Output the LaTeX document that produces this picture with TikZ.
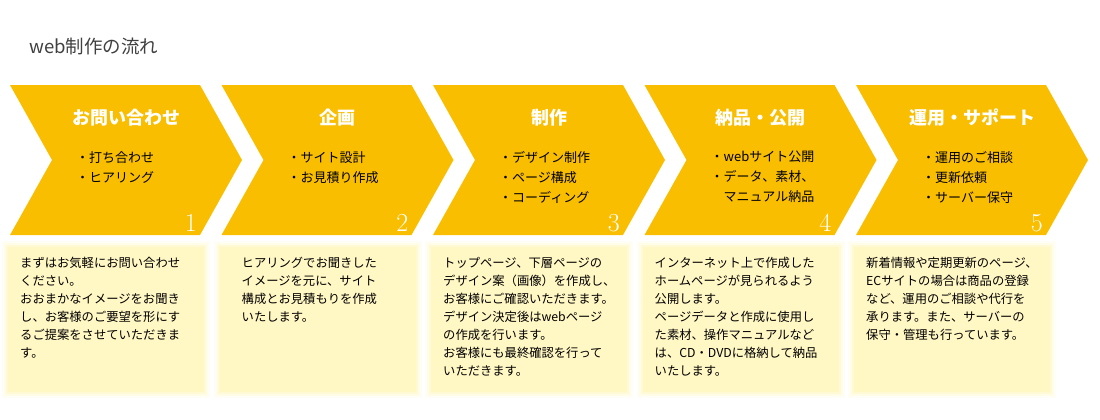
\documentclass[tikz,border=0pt]{standalone}
\usepackage{fontspec}
\newfontfamily\jp{Noto Sans CJK JP}
\definecolor{chevyellow}{HTML}{F9BE00}
\definecolor{notepale}{HTML}{FFF7C4}
\tikzset{
  chevron/.style={fill=chevyellow, draw=none},
  stephead/.style={font=\jp\bfseries\fontsize{18}{20}\selectfont, text=white, anchor=center},
  stepitems/.style={font=\jp\fontsize{13}{20}\selectfont, align=left, anchor=north west, inner sep=0pt},
  stepnum/.style={font=\fontsize{26}{26}\selectfont, text=white, anchor=south east, inner sep=0pt},
  notebox/.style={fill=notepale, draw=none},
  notetext/.style={font=\jp\fontsize{12.3}{18}\selectfont, align=left, anchor=north west, inner sep=0pt}
}
\begin{document}
\begin{tikzpicture}[x=1pt,y=-1pt]
\useasboundingbox (0,0) rectangle (1100,420);
\node (title) [font=\jp\fontsize{18.5}{20}\selectfont, text=black!75, anchor=west] at (26,46) {web制作の流れ};

\foreach \i/\head/\items/\note in {
  0/お問い合わせ/{・打ち合わせ\\・ヒアリング}/{まずはお気軽にお問い合わせ\\ください。\\おおまかなイメージをお聞き\\し、お客様のご要望を形にす\\るご提案をさせていただきま\\す。},
  1/企画/{・サイト設計\\・お見積り作成}/{\hspace{10pt}ヒアリングでお聞きした\\\hspace{10pt}イメージを元に、サイト\\\hspace{10pt}構成とお見積もりを作成\\\hspace{10pt}いたします。},
  2/制作/{・デザイン制作\\・ページ構成\\・コーディング}/{トップページ、下層ページの\\デザイン案（画像）を作成し、\\お客様にご確認いただきます。\\デザイン決定後はwebページ\\の作成を行います。\\お客様にも最終確認を行って\\いただきます。},
  3/納品・公開/{・webサイト公開\\・データ、素材、\\\hspace{1em}マニュアル納品}/{インターネット上で作成した\\ホームページが見られるよう\\公開します。\\ページデータと作成に使用し\\た素材、操作マニュアルなど\\は、CD・DVDに格納して納品\\いたします。},
  4/運用・サポート/{・運用のご相談\\・更新依頼\\・サーバー保守}/{新着情報や定期更新のページ、\\ECサイトの場合は商品の登録\\など、運用のご相談や代行を\\承ります。また、サーバーの\\保守・管理も行っています。}}
{
  \pgfmathsetmacro{\x}{10+211.5*\i}
  % chevron
  \fill[chevron] (\x,85) -- ++(190,0) -- ++(42,75) -- ++(-42,75) -- ++(-190,0) -- ++(42,-75) -- cycle;
  \node (head\i) [stephead] at (\x+116,118) {\head};
  \node (items\i) [stepitems] at (\x+66,151) {\items};
  \pgfmathtruncatemacro{\n}{\i+1}
  \node (num\i) [stepnum] at (\x+187,232) {\n};
  % note box with soft edge
  \foreach \k/\op in {6/0.15,4/0.3,2/0.5,0/1}
    \fill[notebox, opacity=\op] (\x-2-\k,247-\k) rectangle (\x+194+\k,392+\k);
  \node (note\i) [notetext] at (\x+10,257) {\note};
}
\end{tikzpicture}
\end{document}
